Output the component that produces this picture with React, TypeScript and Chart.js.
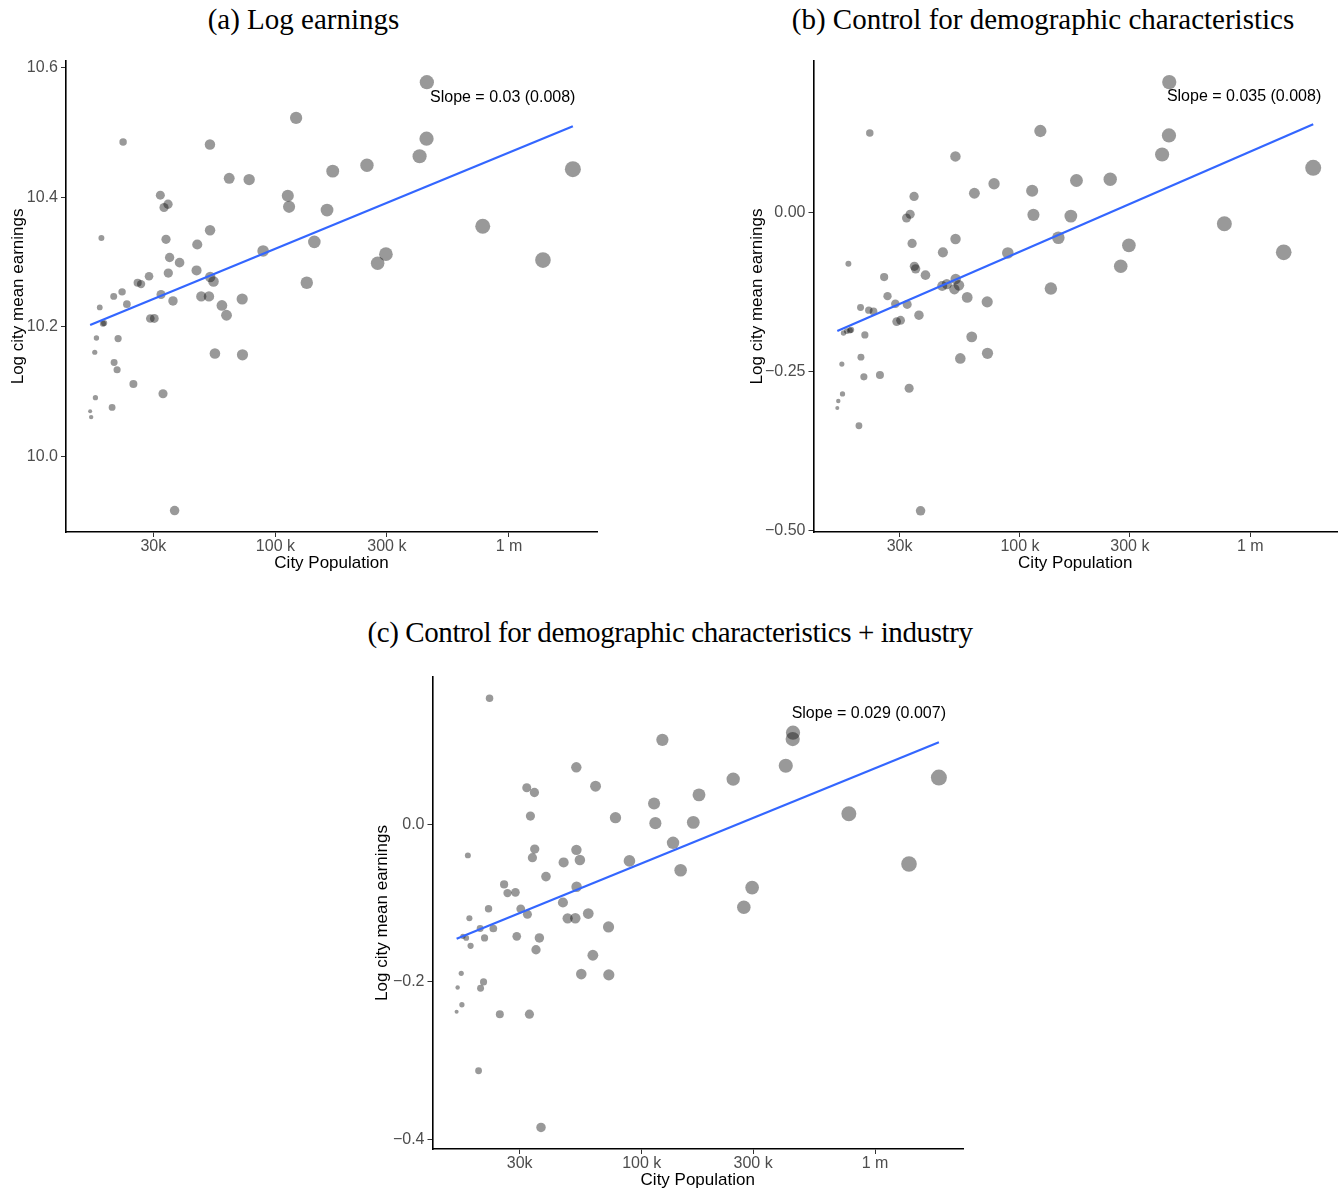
import React, { useEffect, useRef } from "react";
import { Chart, registerables } from "chart.js";

Chart.register(...registerables);

const SANS = "'Liberation Sans', Arial, Helvetica, sans-serif";
const SERIF = "'Liberation Serif', 'Times New Roman', Times, serif";

// ---- Data (one entry per city) ----
const cityPopulation = [
  16100, 16260, 16850, 16960, 17130, 17700, 17990, 18480, 18260, 19990,
  20310, 20390, 21000, 21210, 22060, 22280, 23130, 24660, 25720, 26600,
  28770, 29140, 30310, 32160, 32380, 33020, 33350, 34010, 34690, 34790,
  35240, 36430, 37020, 38880, 45960, 46280, 48140, 51930, 52450, 52500,
  52590, 54330, 55080, 59010, 61750, 63410, 72070, 72280, 77190, 88590,
  112980, 114420, 122620, 136230, 146790, 166340, 175950, 246580, 273900, 297240,
  414240, 443610, 444940, 772000, 1397500, 1877000,
];

const logEarnings = [
  10.070, 10.061, 10.161, 10.091, 10.183, 10.230, 10.337, 10.206, 10.205, 10.076,
  10.247, 10.145, 10.134, 10.182, 10.254, 10.485, 10.235, 10.112, 10.268, 10.266,
  10.278, 10.213, 10.213, 10.403, 10.250, 10.097, 10.384, 10.335, 10.389, 10.283,
  10.307, 10.240, 9.917, 10.299, 10.287, 10.327, 10.247, 10.247, 10.481, 10.349,
  10.277, 10.270, 10.159, 10.233, 10.218, 10.429, 10.243, 10.157, 10.427, 10.317,
  10.402, 10.385, 10.522, 10.268, 10.331, 10.380, 10.440, 10.449, 10.298, 10.312,
  10.463, 10.490, 10.577, 10.355, 10.303, 10.443,
];

const residDemographic = [
  -0.307, -0.296, -0.238, -0.285, -0.189, -0.186, -0.080, -0.184, -0.185, -0.335,
  -0.149, -0.227, -0.258, -0.192, -0.153, 0.126, -0.155, -0.255, -0.101, -0.131,
  -0.143, -0.171, -0.169, -0.008, -0.144, -0.276, -0.002, -0.048, 0.026, -0.084,
  -0.088, -0.161, -0.469, -0.098, -0.115, -0.062, -0.112, -0.120, 0.089, -0.041,
  -0.104, -0.114, -0.229, -0.133, -0.195, 0.031, -0.140, -0.221, 0.046, -0.063,
  0.035, -0.003, 0.129, -0.119, -0.039, -0.005, 0.051, 0.053, -0.084, -0.051,
  0.092, 0.122, 0.206, -0.017, -0.062, 0.071,
];

const residIndustry = [
  -0.238, -0.207, -0.189, -0.229, -0.142, -0.144, -0.039, -0.154, -0.119, -0.313,
  -0.132, -0.208, -0.200, -0.144, -0.107, 0.161, -0.132, -0.241, -0.076, -0.087,
  -0.086, -0.142, -0.107, 0.047, -0.114, -0.241, 0.011, -0.042, 0.041, -0.031,
  -0.159, -0.144, -0.385, -0.066, -0.099, -0.048, -0.119, -0.119, 0.073, -0.032,
  -0.079, -0.045, -0.190, -0.113, -0.166, 0.049, -0.130, -0.191, 0.009, -0.046,
  0.027, 0.002, 0.108, -0.023, -0.058, 0.003, 0.038, 0.058, -0.105, -0.080,
  0.075, 0.109, 0.117, 0.014, -0.050, 0.060,
];

// Fitted lines (end points)
const fitPopulation = [16100, 1877000];
const fitLogEarnings = [10.203, 10.509];
const fitDemographic = [-0.186, 0.1395];
const fitIndustry = [-0.145, 0.105];

// Axes
const xRange = [12690, 2381000];
const xTickValues = [30000, 100000, 300000, 1000000];
const xTickLabels = ["30k", "100 k", "300 k", "1 m"];

const yRangeA = [9.884, 10.61];
const yTicksA = [10.0, 10.2, 10.4, 10.6];
const yTickLabelsA = ["10.0", "10.2", "10.4", "10.6"];

const yRangeB = [-0.5023, 0.2392];
const yTicksB = [-0.5, -0.25, 0.0];
const yTickLabelsB = ["\u22120.50", "\u22120.25", "0.00"];

const yRangeC = [-0.4125, 0.1879];
const yTicksC = [-0.4, -0.2, 0.0];
const yTickLabelsC = ["\u22120.4", "\u22120.2", "0.0"];

const panelTitles = [
  "(a) Log earnings",
  "(b) Control for demographic characteristics",
  "(c) Control for demographic characteristics + industry",
];
const slopeLabels = [
  "Slope = 0.03 (0.008)",
  "Slope = 0.035 (0.008)",
  "Slope = 0.029 (0.007)",
];
const slopeLabelPopulation = 940000;
const slopeLabelY = [10.554, 0.1824, 0.1415];

const xTitle = "City Population";
const yTitle = "Log city mean earnings";

// ---- helpers ----
const radiusFor = (pop: number) => {
  const t = Math.max(0, (Math.log10(pop) - 4.203) / 2.07);
  return 1.5 + 6.5 * Math.pow(Math.min(t, 1.05), 0.4);
};

function labelLookup(values: number[], labels: string[]) {
  return (v: number | string) => {
    const n = Number(v);
    const i = values.findIndex((t) => Math.abs(t - n) <= 1e-9 * Math.max(1, Math.abs(t)));
    return i >= 0 ? labels[i] : "";
  };
}

const slopeLabelPlugin = {
  id: "slopeLabel",
  afterDatasetsDraw(chart: any, _args: any, opts: any) {
    const { ctx, scales } = chart;
    const x = scales.x.getPixelForValue(opts.x);
    const y = scales.y.getPixelForValue(opts.y);
    ctx.save();
    ctx.font = `16px ${SANS}`;
    ctx.fillStyle = "#000000";
    ctx.textAlign = "center";
    ctx.textBaseline = "middle";
    ctx.fillText(opts.text, x, y);
    ctx.restore();
  },
};

type PanelProps = {
  left: number;
  top: number;
  width: number;
  height: number;
  padTop: number;
  padRight: number;
  yAxisWidth: number;
  ys: number[];
  fitY: number[];
  yRange: number[];
  yTicks: number[];
  yTickLabels: string[];
  slopeText: string;
  slopeY: number;
};

function ScatterPanel(p: PanelProps) {
  const ref = useRef<HTMLCanvasElement>(null);
  useEffect(() => {
    if (!ref.current) return;
    const tickFont = { size: 16, family: SANS };
    const titleFont = { size: 17, family: SANS };
    const grid = {
      display: true,
      drawOnChartArea: false,
      drawTicks: true,
      tickLength: 5,
      tickColor: "#333333",
      tickWidth: 1,
    };
    const border = { display: true, color: "#000000", width: 1.6 };
    const chart = new Chart(ref.current, {
      type: "scatter",
      data: {
        datasets: [
          {
            label: "fit",
            data: fitPopulation.map((x, i) => ({ x, y: p.fitY[i] })),
            showLine: true,
            borderColor: "#3366FF",
            borderWidth: 2.2,
            pointRadius: 0,
            pointHoverRadius: 0,
            order: 0,
          },
          {
            label: "cities",
            data: cityPopulation.map((x, i) => ({ x, y: p.ys[i] })),
            backgroundColor: "rgba(0,0,0,0.4)",
            borderWidth: 0,
            pointRadius: (ctx: any) => (ctx.raw ? radiusFor(ctx.raw.x) : 3),
            pointHoverRadius: (ctx: any) => (ctx.raw ? radiusFor(ctx.raw.x) : 3),
            order: 1,
          },
        ],
      } as any,
      options: {
        responsive: false,
        animation: false,
        devicePixelRatio: 1,
        events: [],
        layout: {
          autoPadding: false,
          padding: { top: p.padTop, right: p.padRight, bottom: 0, left: 0 },
        },
        plugins: {
          legend: { display: false },
          tooltip: { enabled: false },
          title: { display: false },
          slopeLabel: { text: p.slopeText, x: slopeLabelPopulation, y: p.slopeY },
        } as any,
        scales: {
          x: {
            type: "logarithmic",
            min: xRange[0],
            max: xRange[1],
            bounds: "data",
            afterBuildTicks: (s: any) => {
              s.ticks = xTickValues.map((v) => ({ value: v }));
            },
            afterFit: (s: any) => {
              s.height = 42;
              s.paddingLeft = 0;
              s.paddingRight = 0;
            },
            ticks: {
              callback: labelLookup(xTickValues, xTickLabels),
              font: tickFont,
              color: "#4d4d4d",
              padding: 0,
              autoSkip: false,
              maxRotation: 0,
              minRotation: 0,
            },
            grid,
            border,
            title: {
              display: true,
              text: xTitle,
              font: titleFont,
              color: "#000000",
              padding: { top: 0, bottom: 0 },
            },
          },
          y: {
            type: "linear",
            min: p.yRange[0],
            max: p.yRange[1],
            bounds: "data",
            afterBuildTicks: (s: any) => {
              s.ticks = p.yTicks.map((v) => ({ value: v }));
            },
            afterFit: (s: any) => {
              s.width = p.yAxisWidth;
              s.paddingTop = 0;
              s.paddingBottom = 0;
            },
            ticks: {
              callback: labelLookup(p.yTicks, p.yTickLabels),
              font: tickFont,
              color: "#4d4d4d",
              padding: 3,
              autoSkip: false,
            },
            grid,
            border,
            title: {
              display: true,
              text: yTitle,
              font: titleFont,
              color: "#000000",
              padding: { top: 8, bottom: 0 },
            },
          },
        } as any,
      },
      plugins: [slopeLabelPlugin],
    } as any);
    return () => chart.destroy();
  }, []);
  return (
    <canvas
      ref={ref}
      width={p.width}
      height={p.height}
      style={{
        position: "absolute",
        left: p.left,
        top: p.top,
        width: p.width,
        height: p.height,
        display: "block",
      }}
    />
  );
}

function Title({ text, center, top, spacing }: { text: string; center: number; top: number; spacing?: number }) {
  return (
    <div
      style={{
        position: "absolute",
        left: center - 400,
        top,
        width: 800,
        textAlign: "center",
        fontFamily: SERIF,
        fontSize: 29,
        lineHeight: "34px",
        color: "#000",
        whiteSpace: "nowrap",
        letterSpacing: spacing ? `${spacing}px` : undefined,
      }}
    >
      {text}
    </div>
  );
}

export default function App() {
  return (
    <div
      style={{
        position: "absolute",
        left: 0,
        top: 0,
        width: 1342,
        height: 1192,
        overflow: "hidden",
        background: "#ffffff",
      }}
    >
      <Title text={panelTitles[0]} center={303.5} top={2} />
      <Title text={panelTitles[1]} center={1043} top={2} />
      <Title text={panelTitles[2]} center={670} top={615} spacing={-0.4} />
      <ScatterPanel
        left={0}
        top={0}
        width={620}
        height={574}
        padTop={60.8}
        padRight={23}
        yAxisWidth={66}
        ys={logEarnings}
        fitY={fitLogEarnings}
        yRange={yRangeA}
        yTicks={yTicksA}
        yTickLabels={yTickLabelsA}
        slopeText={slopeLabels[0]}
        slopeY={slopeLabelY[0]}
      />
      <ScatterPanel
        left={739}
        top={0}
        width={603}
        height={574}
        padTop={61}
        padRight={5}
        yAxisWidth={74.5}
        ys={residDemographic}
        fitY={fitDemographic}
        yRange={yRangeB}
        yTicks={yTicksB}
        yTickLabels={yTickLabelsB}
        slopeText={slopeLabels[1]}
        slopeY={slopeLabelY[1]}
      />
      <ScatterPanel
        left={364}
        top={660}
        width={604}
        height={531}
        padTop={17}
        padRight={5}
        yAxisWidth={68.5}
        ys={residIndustry}
        fitY={fitIndustry}
        yRange={yRangeC}
        yTicks={yTicksC}
        yTickLabels={yTickLabelsC}
        slopeText={slopeLabels[2]}
        slopeY={slopeLabelY[2]}
      />
    </div>
  );
}
